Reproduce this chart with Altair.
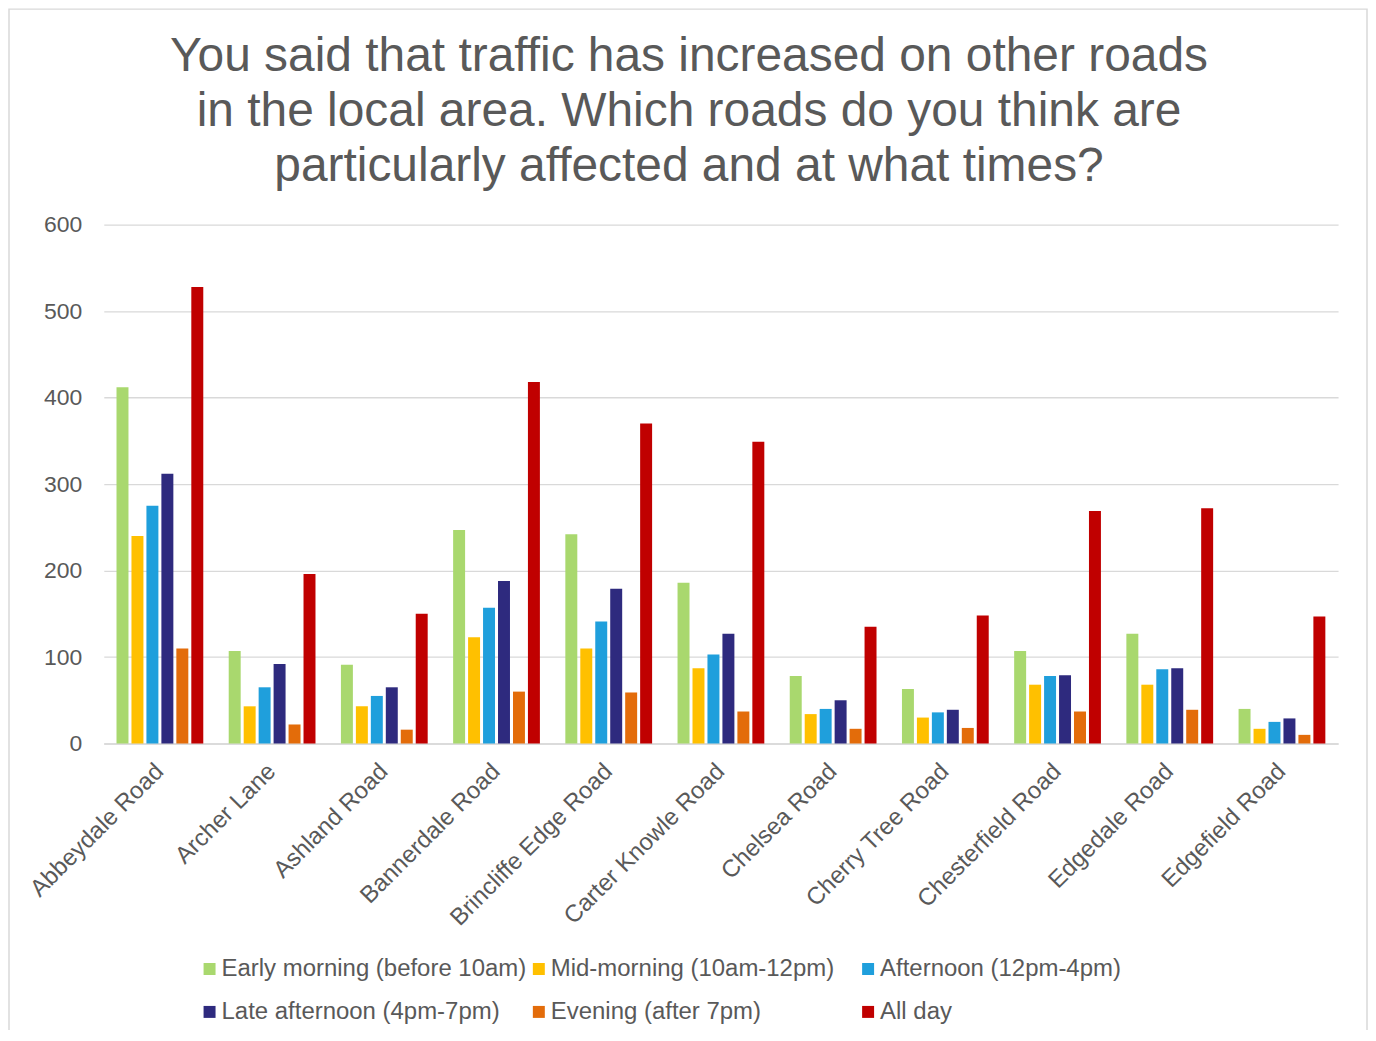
import altair as alt
import pandas as pd

roads = ["Abbeydale Road", "Archer Lane", "Ashland Road", "Bannerdale Road",
         "Brincliffe Edge Road", "Carter Knowle Road", "Chelsea Road",
         "Cherry Tree Road", "Chesterfield Road", "Edgedale Road", "Edgefield Road"]

series = ["Early morning (before 10am)", "Mid-morning (10am-12pm)", "Afternoon (12pm-4pm)",
          "Late afternoon (4pm-7pm)", "Evening (after 7pm)", "All day"]

colors = ["#a9d86e", "#ffc000", "#1f9fdc", "#2e2a7e", "#e36c0a", "#c00000"]

early = [412, 107, 91, 247, 242, 186, 78, 63, 107, 127, 40]
mid = [240, 43, 43, 123, 110, 87, 34, 30, 68, 68, 17]
afternoon = [275, 65, 55, 157, 141, 103, 40, 36, 78, 86, 25]
late = [312, 92, 65, 188, 179, 127, 50, 39, 79, 87, 29]
evening = [110, 22, 16, 60, 59, 37, 17, 18, 37, 39, 10]
allday = [528, 196, 150, 418, 370, 349, 135, 148, 269, 272, 147]

y_ticks = [0, 100, 200, 300, 400, 500, 600]

title_lines = ["You said that traffic has increased on other roads",
               "in the local area. Which roads do you think are",
               "particularly affected and at what times?"]

rows = []
for s, vals in zip(series, [early, mid, afternoon, late, evening, allday]):
    for r, v in zip(roads, vals):
        rows.append({"road": r, "series": s, "value": v})
df = pd.DataFrame(rows)

FONT = "Liberation Sans"
GREY = "#595959"

bars = alt.Chart(df).mark_bar().encode(
    x=alt.X("road:N", sort=roads,
            scale=alt.Scale(paddingInner=0.2, paddingOuter=0.1),
            axis=alt.Axis(title=None, labelAngle=-45, labelAlign="right",
                          labelBaseline="middle", labelFontSize=24,
                          labelColor=GREY, labelFont=FONT, ticks=False,
                          domainColor="#d9d9d9", domainWidth=1.5,
                          labelPadding=24, labelLimit=400)),
    xOffset=alt.XOffset("series:N", sort=series,
                        scale=alt.Scale(paddingInner=0.2, paddingOuter=0.1)),
    y=alt.Y("value:Q", scale=alt.Scale(domain=[0, 600]),
            axis=alt.Axis(title=None, values=y_ticks, labelFontSize=23,
                          labelColor=GREY, labelFont=FONT, domain=False,
                          ticks=False, gridColor="#d9d9d9", gridWidth=1.3,
                          labelPadding=22)),
    color=alt.Color("series:N", sort=series,
                    scale=alt.Scale(domain=series, range=colors),
                    legend=alt.Legend(orient="none", legendX=94, legendY=734,
                                      direction="horizontal",
                                      columns=3, gridAlign="all", title=None,
                                      symbolType="square", symbolSize=144,
                                      symbolStrokeWidth=0,
                                      labelFontSize=24, labelColor=GREY,
                                      labelFont=FONT, labelLimit=400,
                                      columnPadding=0, rowPadding=19,
                                      labelOffset=0, padding=0)),
)

frame = alt.Chart(pd.DataFrame({"f": [0]})).mark_rect(
    fillOpacity=0, stroke="#d9d9d9", strokeWidth=1.5
).encode(x=alt.value(-95), x2=alt.value(1266), y=alt.value(-216), y2=alt.value(840))

chart = alt.layer(frame, bars).properties(
    width=1237, height=520,
    autosize=alt.AutoSizeParams(type="none"),
    padding={"left": 96, "top": 216, "right": 30, "bottom": 286},
    title=alt.TitleParams(text=title_lines, fontSize=48, color=GREY, font=FONT,
                          fontWeight="normal", anchor="middle", frame="group",
                          dx=-32, lineHeight=55, offset=-183),
).configure_view(stroke=None)

chart.save("out.html", embed_options={"renderer": "svg", "actions": False})
